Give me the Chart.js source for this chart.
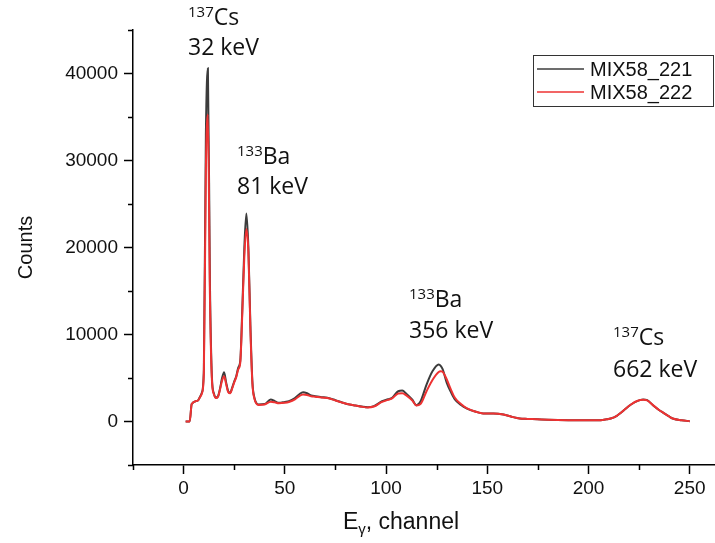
<!DOCTYPE html>
<html>
<head>
<meta charset="utf-8">
<script src="https://cdn.jsdelivr.net/npm/chart.js@4.4.0/dist/chart.umd.min.js"></script>
<style>
  html, body { margin: 0; padding: 0; background: #fff; }
  #wrap { width: 715px; height: 543px; position: relative; }
</style>
</head>
<body>
<div id="wrap"><canvas id="espectro"></canvas></div>
<script>
const channels = [1, 3, 4, 7, 8, 9, 10, 11, 12, 13, 14, 15, 16, 17, 18, 19, 20, 21, 22, 23, 24, 25, 26, 27, 28, 29, 30, 31, 32, 33, 34, 35, 36, 37, 40, 43, 45, 47, 50, 52, 55, 57, 59, 61, 63, 65, 68, 71, 75, 78, 82, 85, 88, 91, 94, 98, 101, 103, 106, 108, 110, 113, 115, 117, 120, 123, 126, 127, 128, 130, 132, 134, 137, 140, 144, 148, 153, 158, 162, 166, 170, 180, 190, 200, 206, 209, 211, 214, 216, 218, 221, 224, 227, 229, 232, 235, 237, 240, 242, 246, 250];
const counts221 = [0, 0, 2000, 2400, 2800, 3300, 6000, 33000, 40600, 16000, 5000, 3200, 2750, 2900, 3800, 5000, 5660, 4500, 3500, 3300, 3900, 4600, 5200, 6200, 7000, 13000, 20000, 23900, 20000, 11000, 4500, 2700, 2100, 1950, 2000, 2530, 2350, 2150, 2250, 2330, 2700, 3100, 3370, 3250, 3000, 2900, 2800, 2720, 2450, 2220, 1950, 1840, 1720, 1640, 1760, 2330, 2550, 2720, 3480, 3550, 3200, 2500, 1870, 2300, 4250, 5800, 6550, 6400, 6000, 4440, 3400, 2530, 1900, 1490, 1150, 920, 920, 800, 550, 345, 300, 200, 150, 140, 150, 250, 345, 650, 1000, 1400, 1950, 2350, 2530, 2450, 1850, 1300, 1000, 550, 310, 150, 35];
const counts222 = [0, 0, 2000, 2400, 2750, 3200, 5500, 29000, 35300, 14500, 4700, 3100, 2700, 2850, 3700, 4700, 5200, 4300, 3400, 3250, 3800, 4500, 5100, 6000, 6800, 12500, 19000, 22140, 19500, 10500, 4300, 2600, 2050, 1900, 1950, 2260, 2200, 2100, 2150, 2250, 2550, 2900, 3100, 3050, 2900, 2850, 2750, 2700, 2420, 2200, 1950, 1830, 1700, 1620, 1720, 2250, 2480, 2650, 3220, 3250, 3000, 2400, 1850, 2000, 3480, 4800, 5700, 5780, 5700, 4830, 3700, 2720, 2000, 1500, 1150, 920, 920, 800, 550, 345, 300, 200, 150, 140, 150, 250, 345, 650, 1000, 1400, 1950, 2350, 2500, 2420, 1850, 1300, 1000, 550, 310, 150, 35];

const seriesNames = ["MIX58_221", "MIX58_222"];
const xTickLabels = [0, 50, 100, 150, 200, 250];
const yTickLabels = [0, 10000, 20000, 30000, 40000];
const xMinorTicks = [-25, 25, 75, 125, 175, 225];
const yMinorTicks = [-5000, 5000, 15000, 25000, 35000, 45000];

// etiquetas de los picos
const peakMass = ["137", "133", "133", "137"];
const peakElement = ["Cs", "Ba", "Ba", "Cs"];
const peakEnergy = ["32 keV", "81 keV", "356 keV", "662 keV"];

// posicion de cada etiqueta (x izquierda, linea base 1, linea base 2)
const peakLabelPos = [[188, 25, 55], [237, 164, 194], [409, 307, 338], [613, 345, 377]];

const extras = {
    id: 'extras',
    afterDraw(chart) {
        const ctx = chart.ctx;
        const xs = chart.scales.x;
        const ys = chart.scales.y;
        ctx.save();

        // ticks menores
        ctx.strokeStyle = '#000';
        ctx.lineWidth = 1.5;
        ctx.beginPath();
        for (const v of xMinorTicks) {
            const px = Math.round(xs.getPixelForValue(v)) + 0.5;
            ctx.moveTo(px, xs.top);
            ctx.lineTo(px, xs.top + 5);
        }
        for (const v of yMinorTicks) {
            const py = Math.round(ys.getPixelForValue(v)) + 0.5;
            ctx.moveTo(ys.right, py);
            ctx.lineTo(ys.right - 5, py);
        }
        ctx.stroke();

        // etiquetas de picos
        ctx.fillStyle = '#111';
        ctx.textBaseline = 'alphabetic';
        ctx.textAlign = 'left';
        peakLabelPos.forEach((p, i) => {
            ctx.font = '15px "Open Sans"';
            ctx.fillText(peakMass[i], p[0], p[1] - 8);
            const w = ctx.measureText(peakMass[i]).width;
            ctx.font = '23px "Open Sans"';
            ctx.fillText(peakElement[i], p[0] + w, p[1]);
            ctx.fillText(peakEnergy[i], p[0], p[2]);
        });

        // titulo eje x con subindice
        const cx = 401, by = 529;
        ctx.font = '23px "Liberation Sans"';
        const wE = ctx.measureText('E').width;
        const wRest = ctx.measureText(', channel').width;
        ctx.font = '15px "Liberation Sans"';
        const wG = ctx.measureText('γ').width;
        let x0 = cx - (wE + wG + wRest) / 2;
        ctx.font = '23px "Liberation Sans"';
        ctx.fillText('E', x0, by);
        ctx.font = '15px "Liberation Sans"';
        ctx.fillText('γ', x0 + wE, by + 5);
        ctx.font = '23px "Liberation Sans"';
        ctx.fillText(', channel', x0 + wE + wG, by);

        // leyenda
        ctx.strokeStyle = '#333';
        ctx.lineWidth = 1;
        ctx.strokeRect(533.5, 55.5, 180, 51);
        ctx.font = '20px "Liberation Sans"';
        ctx.textBaseline = 'middle';
        chart.data.datasets.forEach((ds, i) => {
            const y = 69 + i * 23;
            ctx.strokeStyle = ds.borderColor;
            ctx.lineWidth = 1.5;
            ctx.beginPath();
            ctx.moveTo(537, y);
            ctx.lineTo(584, y);
            ctx.stroke();
            ctx.fillStyle = '#111';
            ctx.fillText(ds.label, 590, y + 1);
        });
        ctx.restore();
    }
};

document.addEventListener("DOMContentLoaded", function () {
    const ctx = document.getElementById('espectro').getContext('2d');
    new Chart(ctx, {
        type: 'line',
        data: {
            datasets: [{
                label: seriesNames[0],
                data: channels.map((c, i) => ({ x: c, y: counts221[i] })),
                borderColor: 'rgb(60, 60, 60)',
                borderWidth: 2,
                pointRadius: 0,
                fill: false,
                cubicInterpolationMode: 'monotone',
                order: 1
            }, {
                label: seriesNames[1],
                data: channels.map((c, i) => ({ x: c, y: counts222[i] })),
                borderColor: 'rgb(238, 50, 50)',
                borderWidth: 2,
                pointRadius: 0,
                fill: false,
                cubicInterpolationMode: 'monotone',
                order: 0
            }]
        },
        options: {
            responsive: true,
            maintainAspectRatio: false,
            animation: false,
            layout: { padding: { top: 30, right: 1, left: 0, bottom: 0 } },
            plugins: {
                legend: { display: false },
                tooltip: { enabled: false }
            },
            scales: {
                x: {
                    type: 'linear',
                    min: -25,
                    max: 262,
                    afterBuildTicks: (scale) => { scale.ticks = xTickLabels.map(v => ({ value: v })); },
                    afterFit: (scale) => { scale.height = 78; },
                    grid: { display: true, drawOnChartArea: false, drawTicks: true, tickLength: 9, tickWidth: 1.5, tickColor: '#000' },
                    border: { display: true, color: '#000', width: 1.5 },
                    ticks: { color: '#111', font: { family: 'Liberation Sans', size: 19 }, padding: 3, maxRotation: 0 }
                },
                y: {
                    type: 'linear',
                    min: -5000,
                    max: 45000,
                    afterBuildTicks: (scale) => { scale.ticks = yTickLabels.map(v => ({ value: v })); },
                    afterFit: (scale) => { scale.width = 133; },
                    grid: { display: true, drawOnChartArea: false, drawTicks: true, tickLength: 9, tickWidth: 1.5, tickColor: '#000' },
                    border: { display: true, color: '#000', width: 1.5 },
                    ticks: { color: '#111', font: { family: 'Liberation Sans', size: 19 }, padding: 6, callback: (v) => String(v) },
                    title: { display: true, text: 'Counts', color: '#111', font: { family: 'Liberation Sans', size: 20 }, padding: { top: 14, bottom: 0 } }
                }
            }
        },
        plugins: [extras]
    });
});
</script>
</body>
</html>
